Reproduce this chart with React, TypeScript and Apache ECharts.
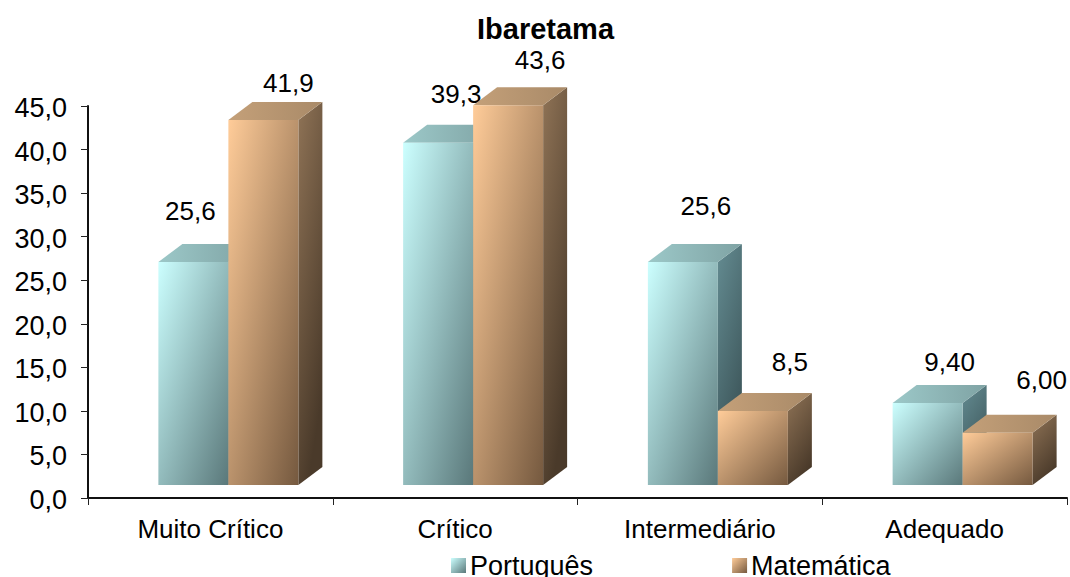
import React, { useEffect, useRef } from "react";
import * as echarts from "echarts";

const titleText = "Ibaretama";
const categories = ["Muito Crítico", "Crítico", "Intermediário", "Adequado"];
const portugues = [25.6, 39.3, 25.6, 9.4];
const matematica = [41.9, 43.6, 8.5, 6.0];
const portuguesLabels = ["25,6", "39,3", "25,6", "9,40"];
const matematicaLabels = ["41,9", "43,6", "8,5", "6,00"];
// hand-placed label offsets from the centre of each bar's top edge
const portuguesLabelDx = [-3, 18, 23, 22];
const portuguesLabelDy = [-51, -49, -56, -41];
const matematicaLabelDx = [25, 32, 37, 44];
const matematicaLabelDy = [-37, -45, -49, -53];

const FONT = "'Liberation Sans', Arial, sans-serif";
const BAR_FRACTION = 0.286;
const SHIFT_X = 18;
const SHIFT_Y = -13;
const DEPTH_X = 24;
const DEPTH_Y = -18;

const grad = (x2: number, y2: number, a: string, b: string) =>
  new echarts.graphic.LinearGradient(0, 0, x2, y2, [
    { offset: 0, color: a },
    { offset: 1, color: b },
  ]);

type Palette = { front: [string, string]; top: [string, string]; side: [string, string] };
const cyan: Palette = {
  front: ["#CCFFFF", "#5A787A"],
  top: ["#9CC8C8", "#7FA3A4"],
  side: ["#648C92", "#3A5256"],
};
const orange: Palette = {
  front: ["#FFCC99", "#75593F"],
  top: ["#C4A079", "#A98A68"],
  side: ["#8F7356", "#4A3A2A"],
};

const makeSeries = (
  name: string,
  values: number[],
  labels: string[],
  dxs: number[],
  dys: number[],
  p: Palette,
  left: boolean,
) => ({
  type: "custom" as const,
  name,
  clip: false,
  itemStyle: { color: grad(1, 1, p.front[0], p.front[1]) },
  encode: { x: 0, y: 1 },
  data: values.map((v, i) => [categories[i], v]),
  renderItem: (params: any, api: any) => {
    const i = params.dataIndex;
    const top = api.coord([api.value(0), api.value(1)]);
    const base = api.coord([api.value(0), 0]);
    const band = api.size([1, 0])[0];
    const w = band * BAR_FRACTION;
    const x0 = base[0] + SHIFT_X + (left ? -w : 0);
    const x1 = x0 + w;
    const y0 = top[1] + SHIFT_Y;
    const y1 = base[1] + SHIFT_Y;
    return {
      type: "group",
      children: [
        {
          type: "polygon",
          shape: { points: [[x1, y0], [x1 + DEPTH_X, y0 + DEPTH_Y], [x1 + DEPTH_X, y1 + DEPTH_Y], [x1, y1]] },
          style: { fill: grad(0.4, 1, p.side[0], p.side[1]) },
        },
        {
          type: "polygon",
          shape: { points: [[x0, y0], [x0 + DEPTH_X, y0 + DEPTH_Y], [x1 + DEPTH_X, y0 + DEPTH_Y], [x1, y0]] },
          style: { fill: grad(1, 0, p.top[0], p.top[1]) },
        },
        {
          type: "rect",
          shape: { x: x0, y: y0, width: w, height: y1 - y0 },
          style: { fill: grad(1, 1, p.front[0], p.front[1]) },
        },
        {
          type: "text",
          style: {
            text: labels[i],
            x: (x0 + x1) / 2 + dxs[i],
            y: y0 + dys[i],
            align: "center",
            verticalAlign: "middle",
            font: `26px ${FONT}`,
            fill: "#000",
          },
        },
      ],
    };
  },
});

export default function App() {
  const ref = useRef<HTMLDivElement>(null);
  useEffect(() => {
    if (!ref.current) return;
    const chart = echarts.init(ref.current, undefined, { renderer: "svg" });
    chart.setOption({
      animation: false,
      backgroundColor: "#fff",
      textStyle: { fontFamily: FONT },
      title: {
        text: titleText,
        left: 477,
        top: 14,
        padding: 0,
        textStyle: { fontFamily: FONT, fontSize: 29, fontWeight: "bold", color: "#000" },
      },
      legend: {
        left: 451,
        top: 552,
        padding: 0,
        itemWidth: 15,
        itemHeight: 15,
        itemGap: 139,
        icon: "rect",
        data: ["Português", "Matemática"],
        textStyle: { fontFamily: FONT, fontSize: 27, color: "#000", padding: [0, 0, 0, -1] },
      },
      grid: { left: 88, right: 3, top: 106, height: 392, containLabel: false },
      xAxis: {
        type: "category",
        data: categories,
        axisLine: { lineStyle: { color: "#111", width: 2 } },
        axisTick: { show: true, length: 7, alignWithLabel: false, lineStyle: { color: "#222", width: 1 } },
        axisLabel: { fontFamily: FONT, fontSize: 26, color: "#000", margin: 18 },
      },
      yAxis: {
        type: "value",
        min: 0,
        max: 45,
        interval: 5,
        splitLine: { show: false },
        axisLine: { show: true, lineStyle: { color: "#111", width: 2 } },
        axisTick: { show: true, length: 7, lineStyle: { color: "#222", width: 1 } },
        axisLabel: {
          fontFamily: FONT,
          fontSize: 27,
          color: "#000",
          margin: 21,
          verticalAlign: "top",
          lineHeight: 4,
          formatter: (v: number) => v.toFixed(1).replace(".", ","),
        },
      },
      series: [
        makeSeries("Português", portugues, portuguesLabels, portuguesLabelDx, portuguesLabelDy, cyan, true),
        makeSeries("Matemática", matematica, matematicaLabels, matematicaLabelDx, matematicaLabelDy, orange, false),
      ],
    });
    return () => chart.dispose();
  }, []);
  return <div ref={ref} style={{ position: "fixed", left: 0, top: 0, width: 1070, height: 577 }} />;
}
